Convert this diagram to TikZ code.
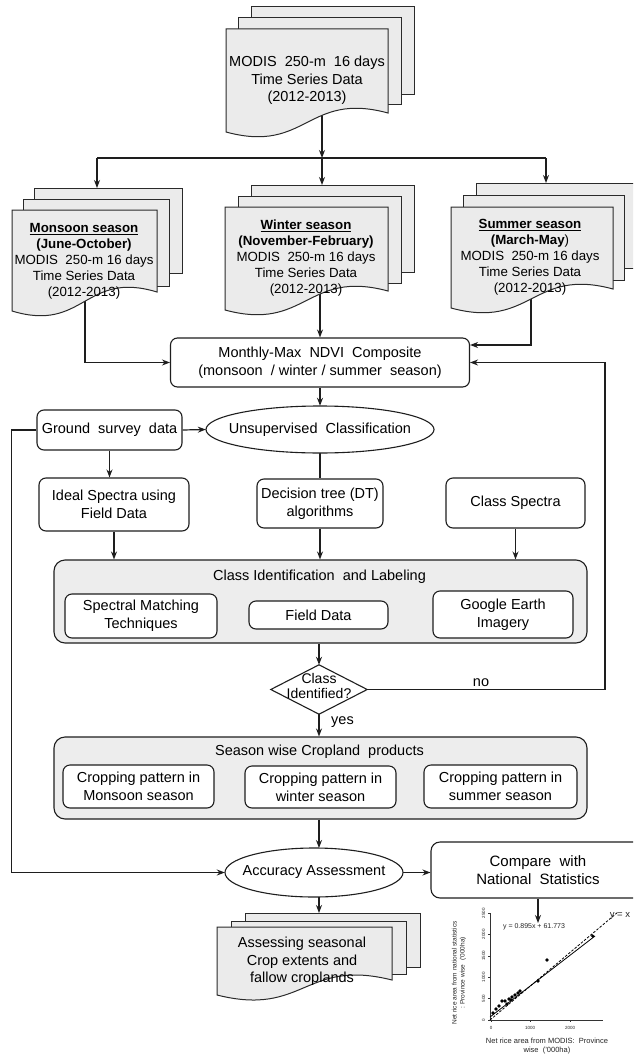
\documentclass[tikz,border=0pt]{standalone}
\usepackage{fontspec}
\setmainfont{Liberation Sans}
\usetikzlibrary{arrows.meta,shapes.geometric,calc}
\pgfdeclarelayer{back}
\pgfdeclarelayer{bg}
\pgfsetlayers{back,bg,main}
\definecolor{lc}{HTML}{1E1E1E}
\definecolor{sheetline}{HTML}{2A2A2A}
\definecolor{sheetfill}{HTML}{EBEBEB}
\definecolor{boxfill}{HTML}{EDEDED}
\newcommand\sheetrect[4]{\draw[sheet] (#1,#2) rectangle (#3,#4);}
\newcommand\docsheet[5]{%
  \pgfmathsetmacro\xm{(#1+#3)/2}%
  \pgfmathsetmacro\ya{#5-22}%
  \pgfmathsetmacro\yb{#4+22}%
  \draw[sheet] (#1,#2) -- (#3,#2) -- (#3,#5) .. controls (\xm,\ya) and (\xm,\yb) .. (#1,#4) -- cycle;}
\newcommand\fsz[2]{\fontsize{#1}{#2}\selectfont}
\begin{document}
\begin{tikzpicture}[x=1pt,y=-1pt,
  sheet/.style={draw=sheetline,fill=sheetfill,line width=1pt,line join=miter},
  conn/.style={draw=lc,line width=1.2pt},
  arr/.style={conn,-{Stealth[length=8pt,width=6pt]}},
  box/.style={draw=lc,fill=white,rounded corners=7pt,line width=1.1pt,align=center,inner sep=0pt,font=\fsz{14.5}{18}},
  bigbox/.style={draw=lc,fill=boxfill,rounded corners=11pt,line width=1.1pt,inner sep=0pt},
  shapeonly/.style={draw=lc,fill=white,line width=1.1pt},
  lbl/.style={inner sep=0pt,align=center,font=\fsz{14.5}{18}},
  stxt/.style={inner sep=0pt,align=center,font=\fsz{13.3}{16}},
  tiny/.style={inner sep=0pt,align=center,text=black!85},
]
\useasboundingbox (0,0) rectangle (633,1054);
\clip (0,0) rectangle (633,1054);
\begin{pgfonlayer}{back}
  \fill[white] (0,0) rectangle (633,1054);
\end{pgfonlayer}

% ---------- document stacks ----------
% top
\sheetrect{251}{7}{414}{95}
\sheetrect{238}{18}{401}{105}
\docsheet{226}{29}{388}{132}{113}
\node[lbl,font=\fsz{14.5}{17.5}] (topdoc) at (307,80.5) {MODIS\ \ 250-m\ \ 16 days\\Time Series Data\\(2012-2013)};
% monsoon
\sheetrect{34}{188}{182}{273}
\sheetrect{23}{199}{169}{286}
\docsheet{12}{210}{157}{311}{292}
\node[stxt] (mon) at (84,261) {\underline{\textbf{Monsoon season}}\\\textbf{(June-October)}\\MODIS\ \ 250-m 16 days\\Time Series Data\\(2012-2013)};
% winter
\sheetrect{251}{185}{414}{272}
\sheetrect{238}{196}{401}{283}
\docsheet{225}{207}{388}{310}{291}
\node[stxt] (win) at (306,258.5) {\underline{\textbf{Winter season}}\\\textbf{(November-February)}\\MODIS\ \ 250-m 16 days\\Time Series Data\\(2012-2013)};
% summer
\sheetrect{476}{183}{639}{268}
\sheetrect{463}{195}{624}{280}
\docsheet{451}{207}{613}{308}{289}
\node[stxt] (sum) at (530,257.5) {\underline{\textbf{Summer season}}\\\textbf{(March-May})\\MODIS\ \ 250-m 16 days\\Time Series Data\\(2012-2013)};
% bottom
\sheetrect{245}{913}{420}{967}
\sheetrect{231}{921}{406}{974}
\docsheet{217}{927}{392}{995}{980}
\node[lbl,font=\fsz{14.5}{17.5}] (outdoc) at (302,961.5) {Assessing seasonal\\Crop extents and\\fallow croplands};

% ---------- boxes ----------
\node[box,minimum width=299pt,minimum height=49pt] (monthly) at (320,362.5) {Monthly-Max\ \ NDVI\ \ Composite\\(monsoon\ \ /\ winter\ /\ summer\ \ season)};
\node[lbl,minimum width=228pt,minimum height=47pt] (uns) at (320,429.5) {};
\draw[shapeonly] (uns.center) ellipse [x radius=114, y radius=23.5];
\node[lbl] at (uns.center) {Unsupervised\ \ Classification};
\node[box,minimum width=145pt,minimum height=40pt] (ground) at (109.5,430) {Ground\ \ survey\ \ data};
\node[box,minimum width=150pt,minimum height=53pt] (ideal) at (114,504.5) {Ideal Spectra using\\Field Data};
\node[box,minimum width=126pt,minimum height=49pt] (dt) at (320,503.5) {Decision tree (DT)\\algorithms};
\node[box,minimum width=139pt,minimum height=50pt] (cs) at (515.5,503) {Class Spectra};

\node[bigbox,minimum width=533pt,minimum height=83pt] (cil) at (320.5,601.5) {};
\node[lbl] (cilt) at (319.5,577) {Class Identification\ \ and Labeling};
\node[box,minimum width=152pt,minimum height=44pt] (smt) at (141,616) {Spectral Matching\\Techniques};
\node[box,minimum width=139pt,minimum height=28pt] (fd) at (318.5,615) {Field Data};
\node[box,minimum width=140pt,minimum height=47pt] (ge) at (503,614.5) {Google Earth\\Imagery};

\node[lbl,minimum width=96pt,minimum height=49pt] (dia) at (319,689.5) {};
\draw[shapeonly,line join=miter] (dia.north) -- (dia.east) -- (dia.south) -- (dia.west) -- cycle;
\node[lbl,font=\fsz{14}{15}] (diat) at (319,685.5) {Class\\Identified?};
\node[lbl] (no) at (481,683) {no};
\node[lbl] (yes) at (342.5,722.5) {yes};

\node[bigbox,minimum width=533pt,minimum height=82pt] (swc) at (320.5,778) {};
\node[lbl] (swct) at (319.5,752) {Season wise Cropland\ \ products};
\node[box,minimum width=151pt,minimum height=43pt] (c1) at (138.5,786.5) {Cropping pattern in\\Monsoon season};
\node[box,minimum width=151pt,minimum height=42pt] (c2) at (320.5,787) {Cropping pattern in\\winter season};
\node[box,minimum width=153pt,minimum height=43pt] (c3) at (500.5,786.5) {Cropping pattern in\\summer season};

\node[lbl,minimum width=178pt,minimum height=49pt] (acc) at (314,872.5) {};
\draw[shapeonly] (acc.center) ellipse [x radius=89, y radius=24.5];
\node[lbl] at (acc.center) {Accuracy Assessment};
\node[box,minimum width=214pt,minimum height=56pt,rounded corners=9pt,font=\fsz{15}{18}] (cmp) at (538,870) {Compare\ \ with\\National\ \ Statistics};

% ---------- scatter chart ----------
\draw[line width=0.6pt,draw=black!80] (490,913) -- (490,1020) -- (603,1020);
\foreach \i in {0,...,5} {\draw[line width=0.4pt,draw=black!80] (488,1020-21.4*\i) -- (490,1020-21.4*\i);}
\foreach \v/\yy in {0/1020,500/998.6,1000/977.2,1500/955.8,2000/934.4,2500/913}
  {\node[tiny,rotate=90,font=\fsz{4.5}{5}] at (483.5,\yy) {\v};}
\foreach \v/\xx in {0/491,1000/530,2000/570}
  {\draw[line width=0.4pt,draw=black!80] (\xx,1020) -- (\xx,1022);
   \node[tiny,font=\fsz{4.5}{5}] at (\xx,1028) {\v};}
\draw[line width=0.8pt,dash pattern=on 2.5pt off 1.6pt] (490,1020) -- (618,912);
\draw[line width=0.8pt] (490,1017) -- (595,936);
\foreach \px/\py in {592.7/936,547/960,538/981,520/991,518/993,515/995,512/997,511/1000,509/999,502/1001,505/1001,507/1004,499/1006,496/1009,493/1013}
  {\fill[black] (\px,\py-1.8) -- (\px+1.8,\py) -- (\px,\py+1.8) -- (\px-1.8,\py) -- cycle;}
\node[tiny,font=\fsz{7}{8}] (eq) at (534,927) {y = 0.895x + 61.773};
\node[tiny,font=\fsz{9.5}{10}] (yx) at (620,916) {y = x};
\node[tiny,font=\fsz{7.5}{9}] (xt) at (547,1046) {Net rice area from MODIS:\ \ Province\\wise\ \ ('000ha)};
\node[tiny,rotate=90,font=\fsz{6.5}{8}] (yt) at (459,973) {Net rice area from national statistics\\: Province wise\ \ ('000ha)};

% ---------- connectors ----------
\coordinate (topout) at (322,110);
\coordinate (split) at (322,158);
\coordinate (splitL) at (97,158);
\coordinate (splitR) at (546,158);
\coordinate (monIn) at (97,188);
\coordinate (winIn) at (322,185);
\coordinate (sumIn) at (546,183);
\coordinate (monOut) at (85,295);
\coordinate (winOut) at (320,290);
\coordinate (sumOut) at (531,290);
\coordinate (outIn) at (319,913);
\coordinate (chartIn) at (538,923);
\begin{pgfonlayer}{bg}
  \draw[arr] (topout) -- (split);
  \draw[conn] (splitL) -- (splitR);
  \draw[arr] (splitL) -- (monIn);
  \draw[arr] (split) -- (winIn);
  \draw[arr] (splitR) -- (sumIn);
  \draw[arr] (monOut) |- (monthly.west);
  \draw[arr] (winOut) -- (monthly.north);
  \draw[arr] (sumOut) |- ($(monthly.east)+(0,-17.5)$);
  \draw[arr] (monthly.south) -- (uns.north);
  \draw[arr] (ground.east) -- (uns.west);
  \draw[arr] (ground.west) -- ++(-25,0) |- (acc.west);
  \draw[arr] (ground.south) -- (ground.south |- ideal.north);
  \draw[arr] (ideal.south) -- (ideal.south |- cil.north);
  \draw[conn] (uns.south) -- (dt.north);
  \draw[arr] (dt.south) -- (dt.south |- cil.north);
  \draw[arr] (cs.south) -- (cs.south |- cil.north);
  \draw[arr] (cil.south -| dia.north) -- (dia.north);
  \draw[arr] (dia.east) -- (605,689.5) |- (monthly.east);
  \draw[arr] (dia.south) -- (dia.south |- swc.north);
  \draw[arr] (swc.south -| 319,0) -- (319,848);
  \draw[arr] (acc.east) -- (acc.east -| cmp.west);
  \draw[arr] (319,897) -- (outIn);
  \draw[arr] (cmp.south) -- (chartIn);
\end{pgfonlayer}
\end{tikzpicture}
\end{document}
